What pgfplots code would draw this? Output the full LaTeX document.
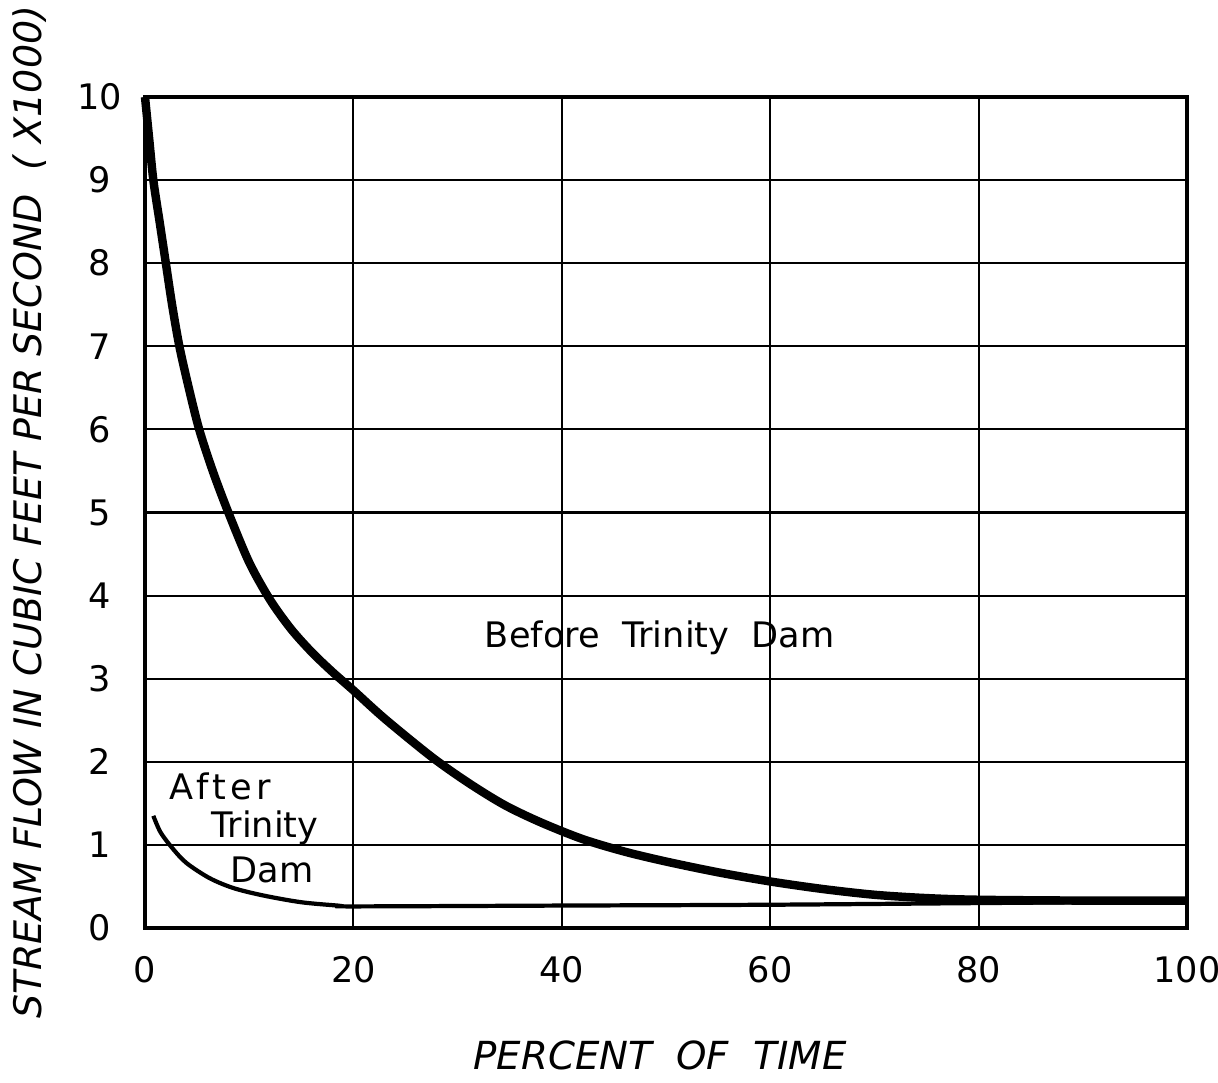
\documentclass[border=0pt]{standalone}
\usepackage{fontspec}
\setmainfont{DejaVu Sans}
\usepackage{pgfplots}
\pgfplotsset{compat=1.18}

\begin{document}
\begin{tikzpicture}
\begin{axis}[
  scale only axis,
  width=10.42cm,
  height=8.31cm,
  xmin=0, xmax=100,
  ymin=0, ymax=10,
  xtick={0,20,40,60,80,100},
  ytick={0,1,...,10},
  grid=major,
  grid style={draw=black, line width=0.6pt},
  axis line style={line width=1.1pt},
  major tick length=0pt,
  /pgf/number format/assume math mode=true,
  tick label style={font=\fontsize{10}{12}\selectfont},
  xticklabel style={anchor=center, yshift=-0.42cm},
  yticklabel style={anchor=center, xshift=-0.45cm},
  clip=false,
]
% before Trinity Dam
\addplot[black, line width=2.4pt, smooth] coordinates {
  (0,10) (0.4,9.5) (0.8,9) (1.4,8.5) (2.0,8) (2.6,7.5) (3.3,7)
  (4.2,6.5) (5.2,6) (6.5,5.5) (8.0,5) (10,4.4) (12,3.95) (14,3.6)
  (16,3.32) (18,3.08) (20,2.86) (23,2.52) (27.5,2.06) (31,1.75)
  (34.5,1.48) (38,1.27) (42,1.07) (46,0.92) (50,0.80) (55,0.67)
  (60,0.56) (65,0.47) (70,0.40) (75,0.36) (80,0.34) (90,0.33) (100,0.33)
};
% after Trinity Dam
\addplot[black, line width=1.2pt, smooth] coordinates {
  (0.8,1.35) (1.5,1.15) (2.7,0.95) (4,0.78) (6.2,0.6) (8.5,0.48)
  (11.4,0.39) (15,0.31) (18.5,0.27) (20,0.26) (40,0.27) (60,0.28)
  (80,0.30) (100,0.32)
};
\node[font=\fontsize{10}{12}\selectfont] at (axis cs:49.4,3.49) {Before\ \ Trinity\ \ Dam};
\node[font=\fontsize{10}{12}\selectfont\addfontfeature{LetterSpace=12}] at (axis cs:7.2,1.70) {After};
\node[font=\fontsize{10}{12}\selectfont] at (axis cs:11.5,1.20) {Trinity};
\node[font=\fontsize{10}{12}\selectfont] at (axis cs:12.2,0.70) {Dam};
\end{axis}
\node[rotate=90, font=\fontsize{10.8}{12}\selectfont\itshape] at (-1.15cm,4.16cm)
  {STREAM FLOW IN CUBIC FEET PER SECOND\ \ ( X1000)};
\node[font=\fontsize{11}{13}\selectfont\itshape] at (5.15cm,-1.27cm)
  {PERCENT\ \ OF\ \ TIME};
\pgfresetboundingbox
\path[use as bounding box] (-1.45cm,-1.54cm) rectangle (10.73cm,9.28cm);
\end{tikzpicture}
\end{document}
